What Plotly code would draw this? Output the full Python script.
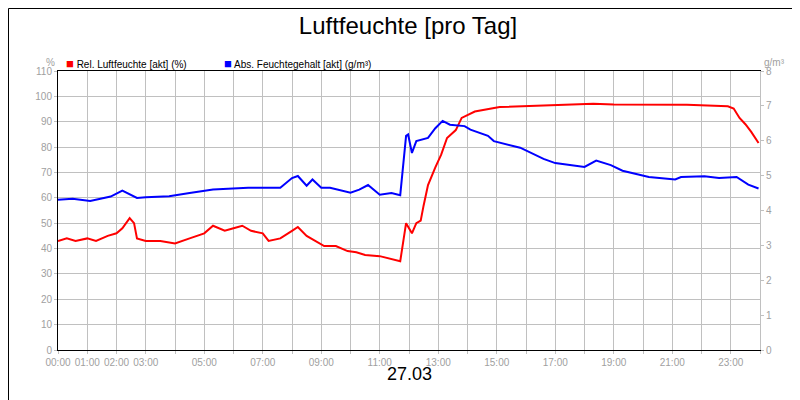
import plotly.graph_objects as go

rel_hours = [0, 0.3, 0.6, 1.0, 1.3, 1.7, 2.0, 2.2, 2.45, 2.6, 2.7, 3.0, 3.5, 4.0, 4.5, 5.0, 5.3, 5.7, 6.0, 6.3, 6.6, 7.0, 7.2, 7.6, 8.0, 8.2, 8.5, 8.8, 9.1, 9.5, 9.9, 10.2, 10.5, 11.0, 11.4, 11.7, 11.9, 12.1, 12.25, 12.4, 12.5, 12.65, 12.9, 13.1, 13.3, 13.6, 13.8, 14.25, 15.1, 16.0, 17.0, 18.3, 19.0, 20.4, 21.5, 22.9, 23.1, 23.3, 23.5, 23.7, 23.95]
rel_vals = [43, 44, 43, 44, 43, 45, 46, 48, 52, 50, 44, 43, 43, 42, 44, 46, 49, 47, 48, 49, 47, 46, 43, 44, 47, 48.5, 45, 43, 41, 41, 39, 38.5, 37.5, 37, 36, 35, 50, 46, 50, 51, 57, 65, 72, 77, 83.6, 86.7, 91.5, 94, 95.8, 96.2, 96.5, 97.1, 96.8, 96.8, 96.7, 96.1, 95.2, 91.5, 89, 86, 81.6]

abs_hours = [0, 0.5, 1.1, 1.8, 2.2, 2.7, 3.0, 3.8, 4.5, 5.3, 6.5, 7.6, 8.0, 8.2, 8.5, 8.7, 9.0, 9.3, 10.0, 10.3, 10.6, 11.0, 11.4, 11.7, 11.9, 11.97, 12.1, 12.25, 12.65, 12.9, 13.15, 13.4, 13.9, 14.1, 14.7, 14.9, 15.8, 16.6, 17.0, 18.0, 18.4, 18.9, 19.3, 20.2, 21.1, 21.3, 22.1, 22.6, 23.2, 23.6, 23.95]
abs_vals = [4.31, 4.34, 4.27, 4.4, 4.57, 4.36, 4.38, 4.41, 4.5, 4.6, 4.65, 4.65, 4.93, 4.99, 4.71, 4.89, 4.65, 4.65, 4.51, 4.6, 4.73, 4.45, 4.5, 4.44, 6.14, 6.18, 5.65, 5.99, 6.08, 6.36, 6.57, 6.46, 6.42, 6.32, 6.14, 5.99, 5.8, 5.48, 5.36, 5.25, 5.43, 5.3, 5.14, 4.96, 4.89, 4.96, 4.98, 4.93, 4.96, 4.74, 4.63]

x_tickvals = [0, 1, 2, 3, 5, 7, 9, 11, 13, 15, 17, 19, 21, 23]
x_ticktext = ["00:00", "01:00", "02:00", "03:00", "05:00", "07:00", "09:00", "11:00", "13:00", "15:00", "17:00", "19:00", "21:00", "23:00"]

fig = go.Figure()
fig.add_trace(go.Scatter(x=rel_hours, y=rel_vals, mode="lines", line=dict(color="#ff0000", width=2), yaxis="y"))
fig.add_trace(go.Scatter(x=abs_hours, y=abs_vals, mode="lines", line=dict(color="#0000ff", width=2), yaxis="y2"))

grid = "#c0c0c0"
tickf = dict(family="Arial", size=10, color="#a0a0a0")
fig.update_layout(
    width=800, height=400, showlegend=False,
    paper_bgcolor="white", plot_bgcolor="white",
    margin=dict(l=50, r=48, t=63, b=58, autoexpand=False),
    title=dict(text="Luftfeuchte [pro Tag]", x=0.5, xanchor="center", y=0.955, yanchor="middle",
               font=dict(family="Arial", size=24, color="black"), automargin=False),
    xaxis=dict(range=[0, 24], tickvals=list(range(25)), ticktext=[x_ticktext[x_tickvals.index(h)] if h in x_tickvals else "" for h in range(25)],
               showgrid=True, gridcolor=grid, tickfont=tickf, ticks="outside", ticklen=3, tickcolor=grid,
               showline=True, linecolor="black", mirror=True, zeroline=False, automargin=False),
    yaxis=dict(range=[0, 110], dtick=10, showgrid=True, gridcolor=grid, tickfont=tickf, ticks="outside", ticklen=3,
               tickcolor=grid, showline=True, linecolor="black", zeroline=False, automargin=False),
    yaxis2=dict(range=[0, 8], dtick=1, overlaying="y", side="right", showgrid=False, tickfont=tickf,
                ticks="outside", ticklen=3, tickcolor=grid, showline=True, linecolor=grid, zeroline=False, automargin=False),
    shapes=[dict(type="rect", xref="paper", yref="paper", x0=-49.5/702, x1=1+47.5/702, y0=-57.5/279, y1=1+62.5/279,
                 line=dict(color="black", width=1))],
    annotations=[
        dict(text="%", xref="paper", yref="paper", x=-8/702, y=1+16/279, showarrow=False, xanchor="center",
             font=dict(family="Arial", size=10, color="#a0a0a0")),
        dict(text="g/m³", xref="paper", yref="paper", x=1+14/702, y=1+16/279, showarrow=False, xanchor="center",
             font=dict(family="Arial", size=10, color="#a0a0a0")),
        dict(text="<span style='color:#ff0000;font-size:13px'>■</span> Rel. Luftfeuchte [akt] (%)", xref="paper", yref="paper",
             x=6/702, y=1+17/279, showarrow=False, xanchor="left", font=dict(family="Arial", size=10, color="black")),
        dict(text="<span style='color:#0000ff;font-size:13px'>■</span> Abs. Feuchtegehalt [akt] (g/m³)", xref="paper", yref="paper",
             x=164/702, y=1+17/279, showarrow=False, xanchor="left", font=dict(family="Arial", size=10, color="black")),
        dict(text="27.03", xref="paper", yref="paper", x=0.5, y=-36/279, showarrow=False, xanchor="center",
             font=dict(family="Arial", size=18, color="black")),
    ],
)
fig.write_html("out.html")
